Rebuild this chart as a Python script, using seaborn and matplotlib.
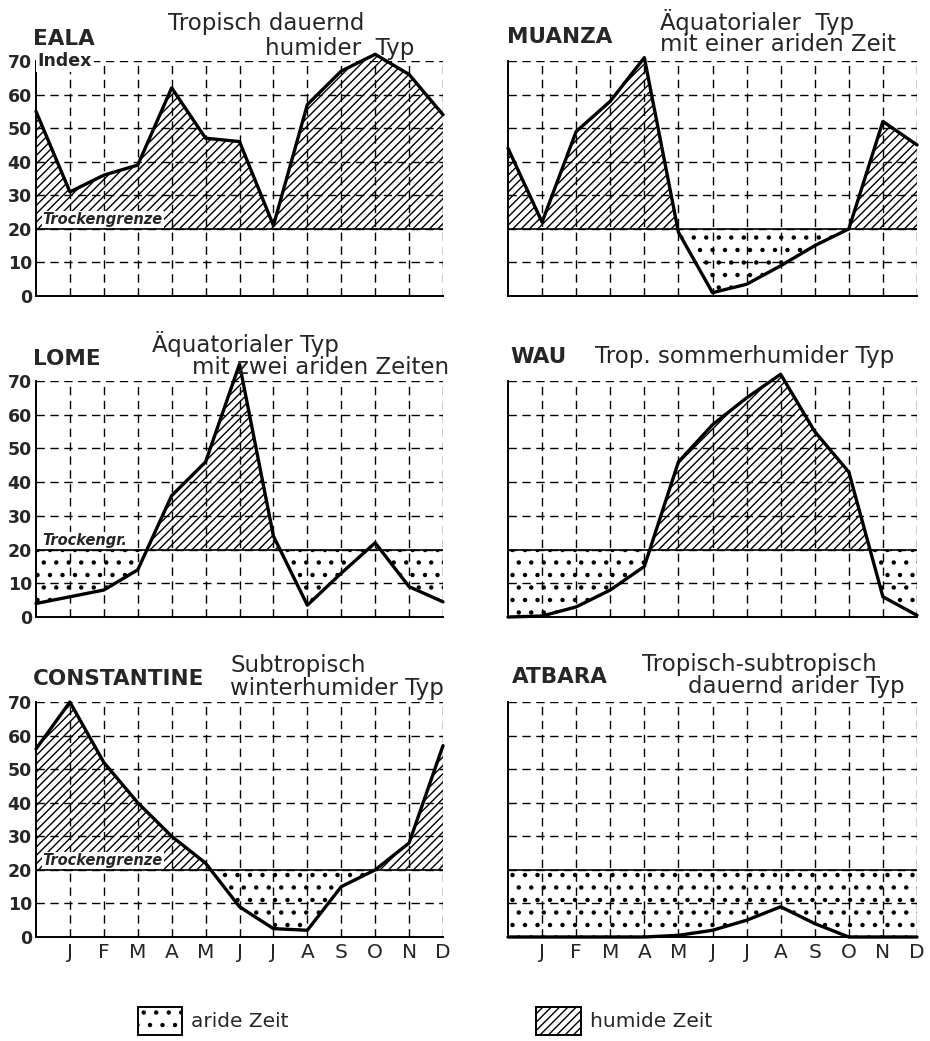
#!/usr/bin/env python3
"""Ariditaetsindex: sechs Klimatypen (Jahresgang des Index) als Kleinpanels."""

import matplotlib as mpl
import matplotlib.hatch as mhatch
import matplotlib.pyplot as plt
from matplotlib.patches import Patch
import numpy as np
import seaborn as sns

W, H = 930, 1041  # target pixel size (dpi 100)

MONTHS = ["J", "F", "M", "A", "M", "J", "J", "A", "S", "O", "N", "D"]
YTICKS = [0, 10, 20, 30, 40, 50, 60, 70]
TROCKENGRENZE = 20

# first value = December of the previous year, then J .. D
EALA = [55, 31, 36, 39, 62, 47, 46, 21, 57, 67, 72, 66, 54]
MUANZA = [44, 22, 49, 58, 71, 19, 1, 3.5, 9, 15, 20, 52, 45]
LOME = [4, 6, 8, 14, 36, 46, 75, 24, 3.5, 13, 22, 9, 4.5]
WAU = [0, 0.3, 3, 8, 15, 46, 57, 65, 72, 55, 43, 6, 0.5]
CONSTANTINE = [56, 70, 52, 40, 30, 22, 9, 2.5, 2, 15, 20, 28, 57]
ATBARA = [0, 0, 0, 0, 0, 0.5, 2, 5, 9, 4, 0, 0, 0]

STATIONS = ["EALA", "MUANZA", "LOME", "WAU", "CONSTANTINE", "ATBARA"]
SERIES = [EALA, MUANZA, LOME, WAU, CONSTANTINE, ATBARA]
TYPES = [
    ["Tropisch dauernd", "humider  Typ"],
    ["Äquatorialer  Typ", "mit einer ariden Zeit"],
    ["Äquatorialer Typ", "mit zwei ariden Zeiten"],
    ["Trop. sommerhumider Typ"],
    ["Subtropisch", "winterhumider Typ"],
    ["Tropisch-subtropisch", "dauernd arider Typ"],
]
GRENZE_LABELS = ["Trockengrenze", None, "Trockengr.", None, "Trockengrenze", None]
LEGEND_LABELS = ["aride Zeit", "humide Zeit"]

# layout in pixels: (left, top, right, bottom)
BOXES = [
    (36, 61, 443, 296), (508, 61, 917, 296),
    (36, 381, 443, 617), (508, 381, 917, 617),
    (36, 702, 443, 937), (508, 702, 917, 937),
]
NAME_POS = [(33, 45), (507, 43), (33, 365), (510, 363), (33, 685), (512, 683)]
TYPE_POS = [
    [(168, 30), (265, 55)],
    [(660, 30), (660, 51)],
    [(152, 352), (192, 374)],
    [(595, 363)],
    [(230, 672), (230, 695)],
    [(642, 671), (688, 693)],
]

HATCH_HUMID = "////"
HATCH_ARID = "."


class DotHatch(mhatch.Circles):
    # slightly denser, larger dots than matplotlib's default "." pattern
    # (num_rows has to stay even for the Shapes bookkeeping)
    size = 0.12
    filled = True

    def __init__(self, hatch, density):
        self.num_rows = hatch.count(".") * 8
        super().__init__(hatch, density)


mhatch._hatch_types = [DotHatch if t is mhatch.SmallFilledCircles else t for t in mhatch._hatch_types]


def fx(px):
    return px / W


def fy(py):
    return 1 - py / H


def draw_panel(fig, i):
    left, top, right, bottom = BOXES[i]
    ax = fig.add_axes([fx(left), fy(bottom), fx(right - left), (bottom - top) / H])
    vals = np.asarray(SERIES[i], dtype=float)
    x = np.arange(len(vals))

    ax.set_xlim(0, len(MONTHS))
    ax.set_ylim(0, 70)

    # zones between curve and Trockengrenze
    ax.fill_between(x, vals, TROCKENGRENZE, where=vals >= TROCKENGRENZE, interpolate=True,
                    facecolor="none", edgecolor="black", hatch=HATCH_HUMID, linewidth=0,
                    clip_on=False, zorder=1)
    ax.fill_between(x, vals, TROCKENGRENZE, where=vals <= TROCKENGRENZE, interpolate=True,
                    facecolor="none", edgecolor="black", hatch=HATCH_ARID, linewidth=0,
                    clip_on=False, zorder=1)

    ax.axhline(TROCKENGRENZE, color="black", lw=1.2, zorder=2.5)
    sns.lineplot(x=x, y=vals, ax=ax, color="black", linewidth=2.4, clip_on=False, zorder=4)
    ax.set_xlabel("")
    ax.set_ylabel("")

    # dashed grid incl. top (70) and right (D) edge
    ax.set_xticks(range(1, len(MONTHS) + 1))
    ax.set_yticks(YTICKS)
    ax.grid(True, which="major", color="black", linestyle=(0, (6, 4)), linewidth=1.0)
    for side in ("top", "right"):
        ax.spines[side].set_visible(False)
    for side in ("left", "bottom"):
        ax.spines[side].set_color("black")
        ax.spines[side].set_linewidth(1.4)

    ax.tick_params(axis="y", length=0, pad=3, labelsize=12.5)
    if left < 100:
        for lbl in ax.get_yticklabels():
            lbl.set_fontweight("bold")
    else:
        ax.set_yticklabels([])

    if i >= 4:
        ax.set_xticklabels(MONTHS)
        ax.set_xticks(np.arange(0.5, len(MONTHS)), minor=True)
        ax.tick_params(axis="x", which="major", length=0, pad=4, labelsize=14.5)
        ax.tick_params(axis="x", which="minor", length=15, width=1.3, direction="out")
    else:
        ax.set_xticklabels([])
        ax.tick_params(axis="x", length=0)

    if GRENZE_LABELS[i]:
        ax.text(0.2, 21.4, GRENZE_LABELS[i], fontsize=10.5, fontweight="bold", style="italic",
                va="baseline", ha="left", zorder=5,
                bbox=dict(boxstyle="square,pad=0.05", fc="white", ec="none"))

    # station name and climate type
    nx, ny = NAME_POS[i]
    fig.text(fx(nx), fy(ny), STATIONS[i], fontsize=15.5, fontweight="bold", va="baseline", ha="left")
    for line, (tx, ty) in zip(TYPES[i], TYPE_POS[i]):
        fig.text(fx(tx), fy(ty), line, fontsize=16.5, va="baseline", ha="left")
    return ax


def main():
    sns.set_style("white")
    mpl.rcParams.update({
        "font.family": ["DejaVu Sans"],
        "hatch.color": "black",
        "hatch.linewidth": 1.0,
    })

    fig = plt.figure(figsize=(W / 100, H / 100), dpi=100)
    axes = [draw_panel(fig, i) for i in range(len(STATIONS))]

    # "Index" label next to 70 in the first panel
    axes[0].text(0.05, 70, "Index", fontsize=12.5, fontweight="bold", va="center", ha="left",
                 zorder=5, bbox=dict(boxstyle="square,pad=0.1", fc="white", ec="none"))

    handles = [
        Patch(facecolor="white", edgecolor="black", hatch=HATCH_ARID, linewidth=1.4, label=LEGEND_LABELS[0]),
        Patch(facecolor="white", edgecolor="black", hatch=HATCH_HUMID, linewidth=1.4, label=LEGEND_LABELS[1]),
    ]
    fig.legend(handles=handles, loc="center", bbox_to_anchor=(0.457, fy(1021)), ncol=2,
               frameon=False, fontsize=14.5, handlelength=2.2, handleheight=1.8,
               handletextpad=0.45, columnspacing=12.3)

    fig.savefig("out.png", dpi=100)


if __name__ == "__main__":
    main()
